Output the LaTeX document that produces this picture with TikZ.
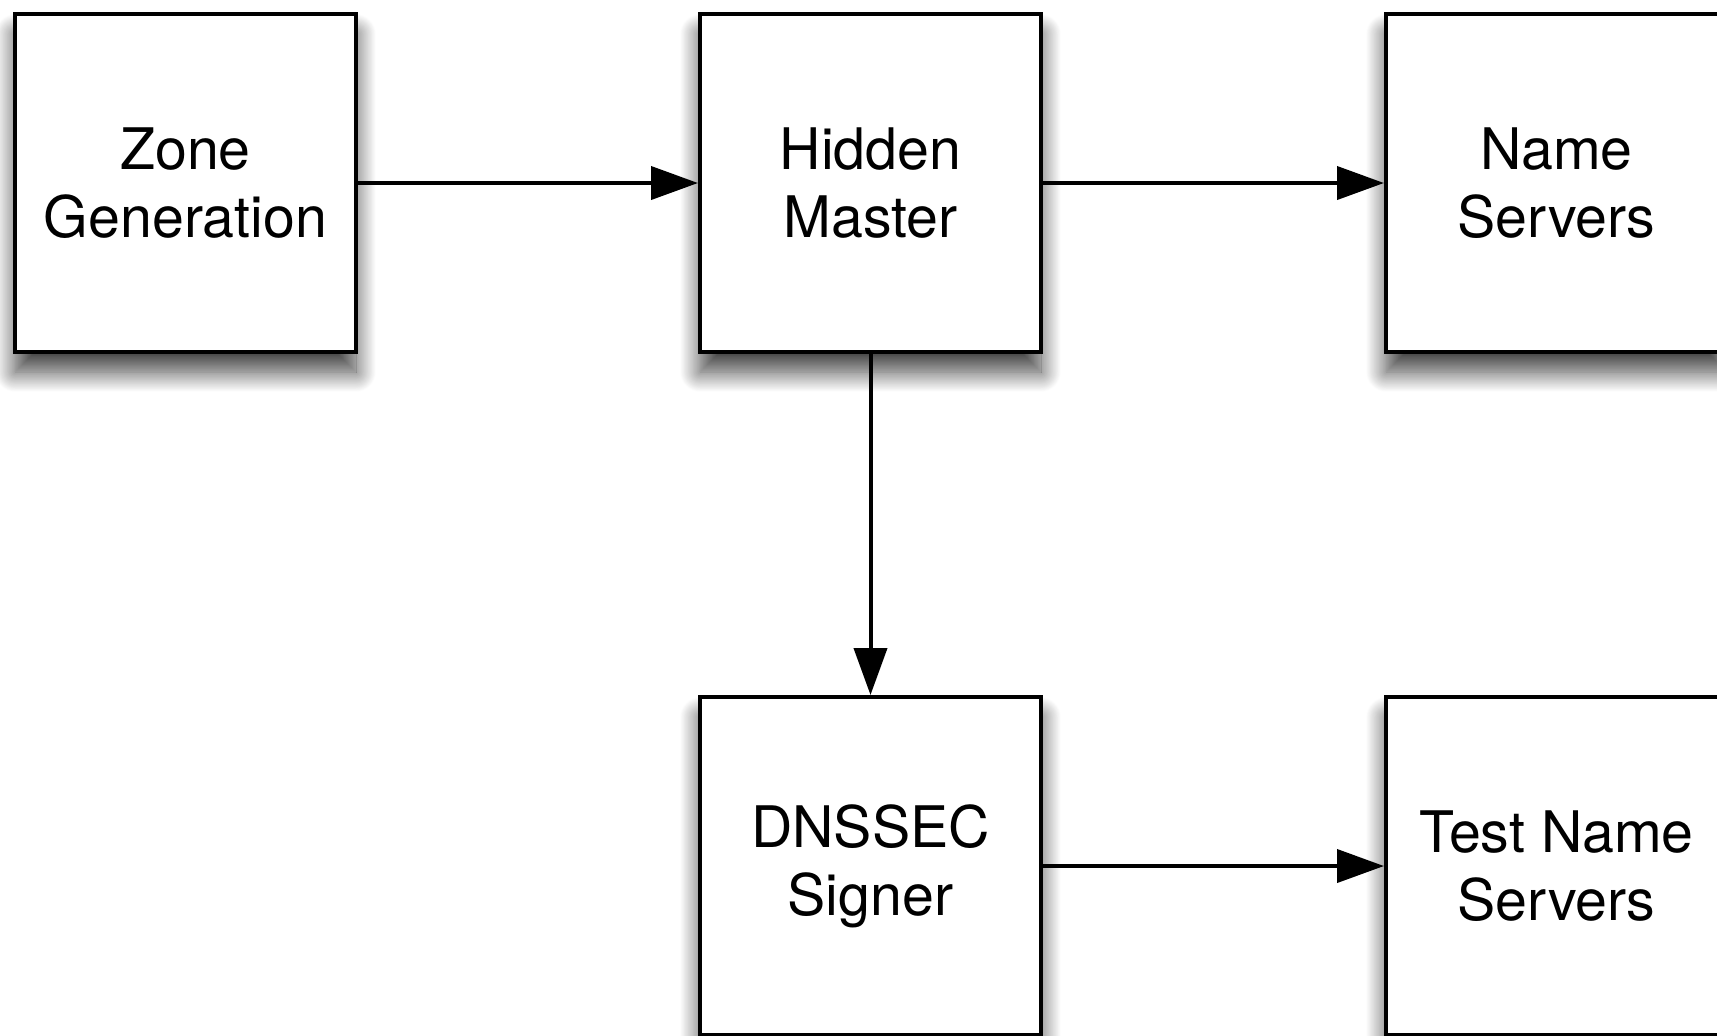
\documentclass[tikz,border=0pt]{standalone}
\usepackage{fontspec}
\setmainfont{TeX Gyre Heros}
\usetikzlibrary{arrows.meta, shadows.blur}

\tikzset{
  box/.style={draw, line width=0.04cm, fill=white, minimum width=3.41cm, minimum height=3.38cm,
    inner sep=0pt, align=center, font=\fontsize{16.3}{19.3}\selectfont,
    blur shadow={shadow xshift=0cm, shadow yshift=-0.2cm, shadow blur radius=0.2cm,
      shadow blur steps=25, shadow opacity=75}},
  flow/.style={line width=0.04cm, -{Triangle[length=0.47cm, width=0.33cm]}}
}

\begin{document}
\begin{tikzpicture}
  \useasboundingbox (0,0) rectangle (17.17,-10.35);
  % top row
  \node[box] (zone) at (1.855,-1.83) {Zone\\Generation};
  \node[box] (hidden) at (8.705,-1.83) {Hidden\\Master};
  \node[box] (names) at (15.565,-1.83) {Name\\Servers};
  % bottom row
  \node[box] (signer) at (8.705,-8.66) {DNSSEC\\Signer};
  \node[box] (testns) at (15.565,-8.66) {Test Name\\Servers};

  \draw[flow] (zone) -- (hidden);
  \draw[flow] (hidden) -- (names);
  \draw[flow] (hidden) -- (signer);
  \draw[flow] (signer) -- (testns);
\end{tikzpicture}
\end{document}
